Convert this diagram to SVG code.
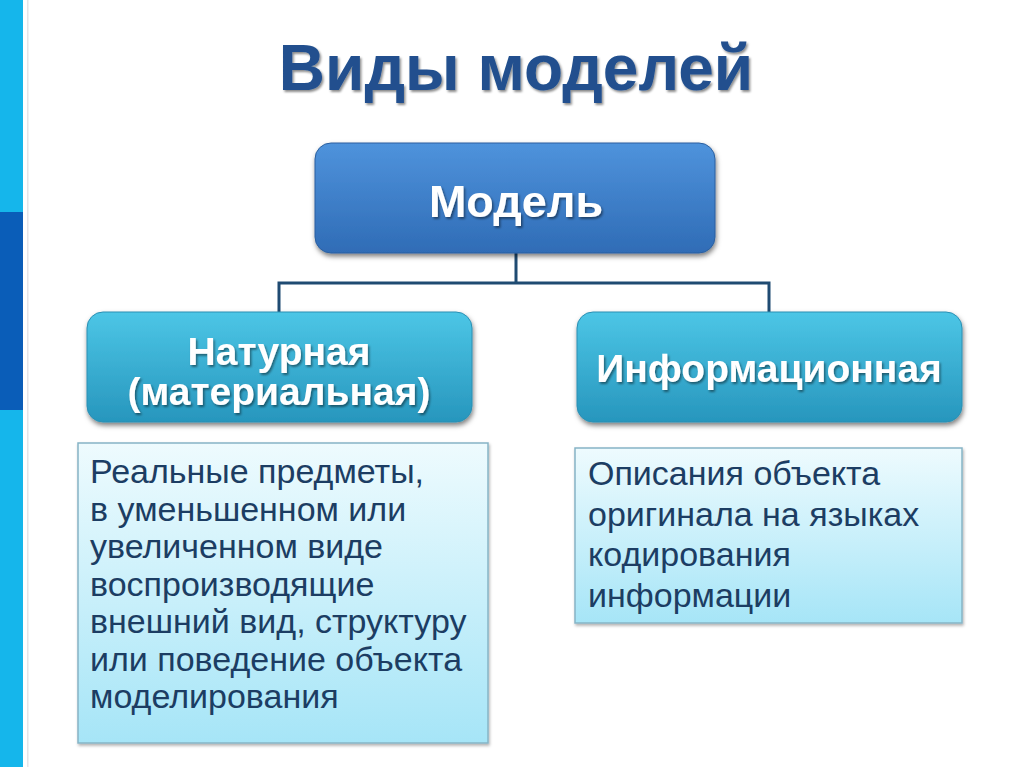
<svg xmlns="http://www.w3.org/2000/svg" width="1024" height="767" viewBox="0 0 1024 767">
<defs>
<linearGradient id="gMain" x1="0" y1="0" x2="0" y2="1">
<stop offset="0" stop-color="#4f93dc"/>
<stop offset="1" stop-color="#2f6cb6"/>
</linearGradient>
<linearGradient id="gSub" x1="0" y1="0" x2="0" y2="1">
<stop offset="0" stop-color="#4cc6e6"/>
<stop offset="1" stop-color="#2796bd"/>
</linearGradient>
<linearGradient id="gText" x1="0" y1="0" x2="0" y2="1">
<stop offset="0" stop-color="#eefbfe"/>
<stop offset="1" stop-color="#a6e5f7"/>
</linearGradient>
<filter id="sh" x="-10%" y="-10%" width="120%" height="130%">
<feDropShadow dx="1" dy="3" stdDeviation="2.5" flood-color="#000" flood-opacity="0.5"/>
</filter>
<filter id="shs" x="-10%" y="-10%" width="120%" height="130%">
<feDropShadow dx="1" dy="2" stdDeviation="1.5" flood-color="#000" flood-opacity="0.3"/>
</filter>
<filter id="tsh" x="-10%" y="-10%" width="120%" height="140%">
<feDropShadow dx="1.5" dy="2" stdDeviation="1" flood-color="#000" flood-opacity="0.45"/>
</filter>
</defs>
<style>
.title{font-family:"Liberation Sans",Arial,sans-serif;font-weight:bold;font-size:64px;fill:#21508e}
.lbl{font-family:"Liberation Sans",Arial,sans-serif;font-weight:bold;fill:#ffffff;text-anchor:middle}
.body{font-family:"Liberation Sans",Arial,sans-serif;font-size:34px;fill:#1c3d63}
.conn{fill:none;stroke:#1f4b72;stroke-width:3}
.main{fill:url(#gMain);stroke:#2a5f9f;stroke-width:1}
.sub{fill:url(#gSub);stroke:#2a8fb3;stroke-width:1}
.tbox{fill:url(#gText);stroke:#86b4c6;stroke-width:1.5}
</style>
<rect x="0" y="0" width="1024" height="767" fill="#ffffff"/>
<rect x="0" y="0" width="23" height="767" fill="#15b6eb"/>
<rect x="0" y="212" width="23" height="198" fill="#0a5db8"/>
<rect x="27" y="0" width="1.5" height="767" fill="#e4e4e8"/>
<text class="title" x="516" y="90" text-anchor="middle" filter="url(#tsh)">Виды моделей</text>
<g id="connectors">
<path class="conn" d="M516 253 V283 M279 312 V283 H769 V312"/>
</g>
<g id="node-model">
<rect class="main" x="315" y="143" width="400" height="110" rx="16" filter="url(#sh)"/>
<text class="lbl" x="516" y="217" font-size="45" filter="url(#tsh)">Модель</text>
</g>
<g id="node-natural">
<rect class="sub" x="87" y="312" width="385" height="110" rx="16" filter="url(#sh)"/>
<text class="lbl" x="279" y="365" font-size="39" filter="url(#tsh)">Натурная</text>
<text class="lbl" x="279" y="405" font-size="39" filter="url(#tsh)">(материальная)</text>
</g>
<g id="node-info">
<rect class="sub" x="577" y="312" width="385" height="110" rx="16" filter="url(#sh)"/>
<text class="lbl" x="769" y="382" font-size="39" filter="url(#tsh)">Информационная</text>
</g>
<g id="desc-natural">
<rect class="tbox" x="78" y="443" width="410" height="300" filter="url(#shs)"/>
<text class="body">
<tspan x="90" y="483">Реальные предметы,</tspan>
<tspan x="90" y="521">в уменьшенном или</tspan>
<tspan x="90" y="558">увеличенном виде</tspan>
<tspan x="90" y="596">воспроизводящие</tspan>
<tspan x="90" y="633">внешний вид, структуру</tspan>
<tspan x="90" y="671">или поведение объекта</tspan>
<tspan x="90" y="708">моделирования</tspan>
</text>
</g>
<g id="desc-info">
<rect class="tbox" x="575" y="448" width="387" height="175" filter="url(#shs)"/>
<text class="body">
<tspan x="588" y="485">Описания объекта</tspan>
<tspan x="588" y="526">оригинала на языках</tspan>
<tspan x="588" y="566">кодирования</tspan>
<tspan x="588" y="607">информации</tspan>
</text>
</g>
</svg>
